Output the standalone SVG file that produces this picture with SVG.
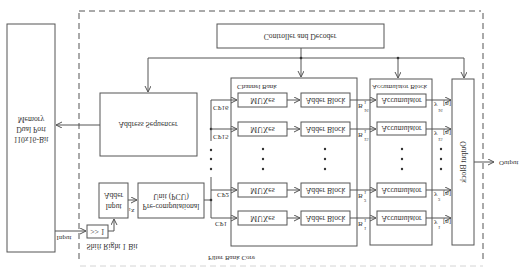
<svg xmlns="http://www.w3.org/2000/svg" width="531" height="279" viewBox="0 0 531 279">
  <defs>
    <style>
      .box { fill: #ffffff; stroke: #555555; stroke-width: 1; }
      .ln { fill: none; stroke: #555555; stroke-width: 1; }
      .arr { fill: none; stroke: #555555; stroke-width: 1; marker-end: url(#ah); }
      .dash { fill: none; stroke: #555555; stroke-width: 1; stroke-dasharray: 6 4; }
      .dashl { fill: none; stroke: #d4d4d4; stroke-width: 1; stroke-dasharray: 6 4; }
      .dot { fill: #333333; }
      text { font-family: "Liberation Serif", "Times New Roman", serif; fill: #333333; dominant-baseline: central; }
      .t { font-size: 7.7px; text-anchor: middle; }
      .ts { font-size: 7px; }
      .tx { font-size: 4.6px; }
    </style>
    <marker id="ah" markerWidth="7" markerHeight="7" refX="6" refY="3" orient="auto" markerUnits="userSpaceOnUse">
      <path d="M0,0 L6,3 L0,6" fill="none" stroke="#555555" stroke-width="1"/>
    </marker>
  </defs>
  <rect width="531" height="279" fill="#ffffff"/>

  <!-- filter bank core boundary -->
  <g id="core-boundary">
    <path class="dash" d="M79,11 H481"/>
    <path class="dash" d="M79,13 V262"/>
    <path class="dash" d="M483,13 V262"/>
    <path class="dashl" d="M80,266 H483"/>
    <text class="ts" transform="translate(208,258) scale(1,-1)">Filter Bank Core</text>
  </g>

  <g id="memory">
    <rect class="box" x="7" y="24" width="48" height="228"/>
    <text class="t" transform="translate(31,119) scale(1,-1)">Memory</text>
    <text class="t" transform="translate(31,129) scale(1,-1)">Dual Port</text>
    <text class="t" transform="translate(31,139) scale(1,-1)">110x16-Bit</text>
  </g>

  <g id="address-sequencer">
    <rect class="box" x="100" y="93" width="97" height="63"/>
    <text class="t" transform="translate(148,124) scale(1,-1)">Address Sequencer</text>
  </g>

  <g id="controller">
    <rect class="box" x="217" y="24" width="167" height="24"/>
    <text class="t" transform="translate(300,36) scale(1,-1)">Controller and Decoder</text>
  </g>

  <g id="shift-right">
    <rect class="box" x="87" y="225" width="21" height="13"/>
    <text class="t" transform="translate(97.5,231.5) scale(1,-1)">&gt;&gt; 1</text>
    <text class="t" transform="translate(112,246) scale(1,-1)">Shift Right 1 Bit</text>
  </g>

  <g id="adder-input">
    <rect class="box" x="99" y="183" width="29" height="35"/>
    <text class="t" transform="translate(113.5,195) scale(1,-1)">Adder</text>
    <text class="t" transform="translate(113.5,206) scale(1,-1)">Input</text>
  </g>

  <g id="pcu">
    <rect class="box" x="138" y="183" width="66" height="35"/>
    <text class="t" transform="translate(171,196) scale(1,-1)">Unit (PCU)</text>
    <text class="t" transform="translate(171,206.5) scale(1,-1)">Pre-computational</text>
  </g>

  <g id="channel-bank">
    <rect class="box" x="231" y="78" width="126" height="168"/>
    <text class="ts" transform="translate(237,87) scale(1,-1)">Channel Bank</text>
    <rect class="box" x="238" y="93" width="49" height="14"/>
    <rect class="box" x="238" y="122" width="49" height="14"/>
    <rect class="box" x="238" y="183" width="49" height="14"/>
    <rect class="box" x="238" y="211" width="49" height="14"/>
    <text class="t" transform="translate(262.5,100) scale(1,-1)">MUXes</text>
    <text class="t" transform="translate(262.5,129) scale(1,-1)">MUXes</text>
    <text class="t" transform="translate(262.5,190) scale(1,-1)">MUXes</text>
    <text class="t" transform="translate(262.5,218) scale(1,-1)">MUXes</text>
    <rect class="box" x="301" y="93" width="49" height="14"/>
    <rect class="box" x="301" y="122" width="49" height="14"/>
    <rect class="box" x="301" y="183" width="49" height="14"/>
    <rect class="box" x="301" y="211" width="49" height="14"/>
    <text class="t" transform="translate(325.5,100) scale(1,-1)">Adder Block</text>
    <text class="t" transform="translate(325.5,129) scale(1,-1)">Adder Block</text>
    <text class="t" transform="translate(325.5,190) scale(1,-1)">Adder Block</text>
    <text class="t" transform="translate(325.5,218) scale(1,-1)">Adder Block</text>
    <circle class="dot" cx="263" cy="149" r="1.2"/>
    <circle class="dot" cx="263" cy="159" r="1.2"/>
    <circle class="dot" cx="263" cy="169" r="1.2"/>
    <circle class="dot" cx="325" cy="149" r="1.2"/>
    <circle class="dot" cx="325" cy="159" r="1.2"/>
    <circle class="dot" cx="325" cy="169" r="1.2"/>
  </g>

  <g id="accumulator-block">
    <rect class="box" x="370" y="79" width="62" height="166"/>
    <text class="ts" transform="translate(372,87) scale(1,-1)">Accumulator Block</text>
    <rect class="box" x="377" y="94" width="49" height="13"/>
    <rect class="box" x="377" y="122" width="49" height="13"/>
    <rect class="box" x="377" y="183" width="49" height="14"/>
    <rect class="box" x="377" y="211" width="49" height="14"/>
    <text class="t" transform="translate(401.5,100.5) scale(1,-1)">Accumulator</text>
    <text class="t" transform="translate(401.5,128.5) scale(1,-1)">Accumulator</text>
    <text class="t" transform="translate(401.5,190) scale(1,-1)">Accumulator</text>
    <text class="t" transform="translate(401.5,218) scale(1,-1)">Accumulator</text>
    <circle class="dot" cx="402" cy="149" r="1.2"/>
    <circle class="dot" cx="402" cy="159" r="1.2"/>
    <circle class="dot" cx="402" cy="169" r="1.2"/>
  </g>

  <g id="output-block">
    <rect class="box" x="452" y="79" width="22" height="166"/>
    <text class="t" transform="translate(463,162) scale(1,-1) rotate(-90)">Output Block</text>
  </g>

  <g id="connectors">
    <!-- memory interface -->
    <path class="arr" d="M100,125 H56"/>
    <path class="arr" d="M55,231 H86"/>
    <text class="ts" text-anchor="middle" transform="translate(64,238) scale(1,-1)">Input</text>
    <path class="arr" d="M108,231 H114 V219"/>
    <path class="arr" d="M128,200 H137"/>
    <text class="tx" transform="translate(128.5,209) scale(1,-1)">1</text>
    <text class="ts" transform="translate(131,211) scale(1,-1)">x</text>
    <path class="ln" d="M204,200 H211"/>

    <!-- control distribution -->
    <path class="arr" d="M301,48 V77"/>
    <path class="ln" d="M148,58 H464"/>
    <path class="arr" d="M148,58 V92"/>
    <path class="arr" d="M398,58 V78"/>
    <path class="arr" d="M464,58 V78"/>
    <circle class="dot" cx="301" cy="58" r="1.3"/>
    <circle class="dot" cx="398" cy="58" r="1.3"/>

    <!-- coefficient bus -->
    <path class="ln" d="M211,100 V141"/>
    <path class="ln" d="M211,177 V218"/>
    <circle class="dot" cx="211" cy="150" r="1.2"/>
    <circle class="dot" cx="211" cy="159" r="1.2"/>
    <circle class="dot" cx="211" cy="169" r="1.2"/>
    <circle class="dot" cx="211" cy="129" r="1.3"/>
    <circle class="dot" cx="211" cy="200" r="1.3"/>
    <path class="arr" d="M211,100 H237"/>
    <path class="arr" d="M211,129 H237"/>
    <path class="arr" d="M211,190 H237"/>
    <path class="arr" d="M211,218 H237"/>
    <text class="ts" transform="translate(213,108) scale(1,-1)">CP16</text>
    <text class="ts" transform="translate(213,137) scale(1,-1)">CP15</text>
    <text class="ts" transform="translate(217,195) scale(1,-1)">CP2</text>
    <text class="ts" transform="translate(215,224) scale(1,-1)">CP1</text>

    <!-- mux to adder -->
    <path class="arr" d="M287,100 H300"/>
    <path class="arr" d="M287,129 H300"/>
    <path class="arr" d="M287,190 H300"/>
    <path class="arr" d="M287,218 H300"/>

    <!-- adder to accumulator -->
    <path class="arr" d="M350,100 H376"/>
    <path class="arr" d="M350,129 H376"/>
    <path class="arr" d="M350,190 H376"/>
    <path class="arr" d="M350,218 H376"/>
    <text class="ts" transform="translate(358,106) scale(1,-1)">B</text>
    <text class="tx" transform="translate(364,102) scale(1,-1)">1</text>
    <text class="tx" transform="translate(364,110) scale(1,-1)">16</text>
    <text class="ts" transform="translate(358,135) scale(1,-1)">B</text>
    <text class="tx" transform="translate(364,131) scale(1,-1)">1</text>
    <text class="tx" transform="translate(364,139) scale(1,-1)">15</text>
    <text class="ts" transform="translate(358,196) scale(1,-1)">B</text>
    <text class="tx" transform="translate(364,192) scale(1,-1)">1</text>
    <text class="tx" transform="translate(364,200) scale(1,-1)">2</text>
    <text class="ts" transform="translate(358,224) scale(1,-1)">B</text>
    <text class="tx" transform="translate(364,220) scale(1,-1)">1</text>
    <text class="tx" transform="translate(364,228) scale(1,-1)">1</text>

    <!-- accumulator to output block -->
    <path class="arr" d="M426,100 H451"/>
    <path class="arr" d="M426,129 H451"/>
    <path class="arr" d="M426,190 H451"/>
    <path class="arr" d="M426,218 H451"/>
    <text class="ts" transform="translate(434,105) scale(1,-1)">y</text>
    <text class="tx" transform="translate(438,110) scale(1,-1)">16</text>
    <text class="ts" transform="translate(443,104) scale(1,-1)">[n]</text>
    <text class="ts" transform="translate(434,134) scale(1,-1)">y</text>
    <text class="tx" transform="translate(438,139) scale(1,-1)">15</text>
    <text class="ts" transform="translate(443,133) scale(1,-1)">[n]</text>
    <text class="ts" transform="translate(434,195) scale(1,-1)">y</text>
    <text class="tx" transform="translate(438,199) scale(1,-1)">2</text>
    <text class="ts" transform="translate(443,194) scale(1,-1)">[n]</text>
    <text class="ts" transform="translate(434,223) scale(1,-1)">y</text>
    <text class="tx" transform="translate(438,227) scale(1,-1)">1</text>
    <text class="ts" transform="translate(443,222) scale(1,-1)">[n]</text>
    <circle class="dot" cx="441" cy="149" r="1.2"/>
    <circle class="dot" cx="441" cy="159" r="1.2"/>
    <circle class="dot" cx="441" cy="169" r="1.2"/>

    <!-- final output -->
    <path class="arr" d="M474,162 H494"/>
    <text class="ts" transform="translate(499,163) scale(1,-1)">Output</text>
  </g>
</svg>
